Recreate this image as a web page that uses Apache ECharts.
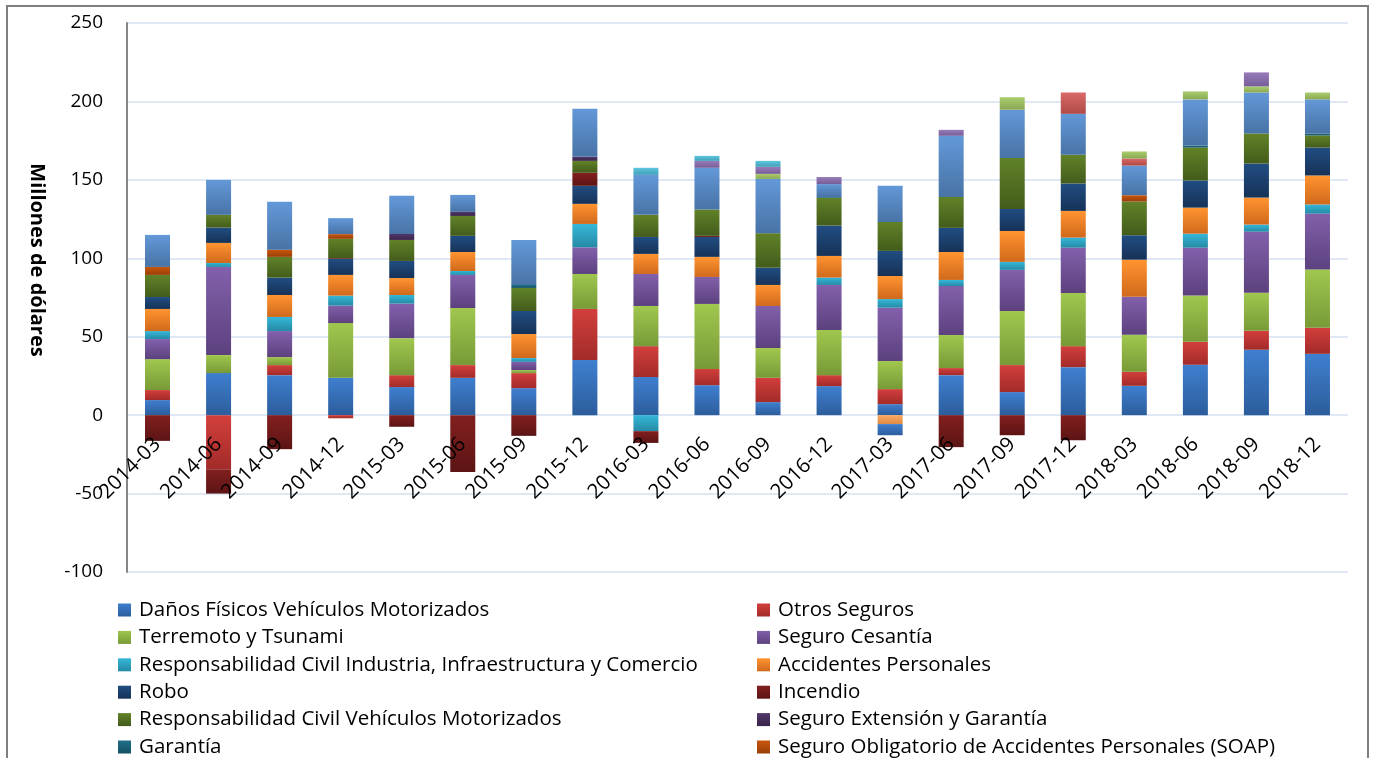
<!DOCTYPE html>
<html>
<head>
<meta charset="utf-8">
<script src="https://cdn.jsdelivr.net/npm/echarts@6/dist/echarts.min.js"></script>
<style>
  html, body { margin: 0; padding: 0; background: #fff; }
  #chart { width: 1373px; height: 758px; }
</style>
</head>
<body>
<div id="chart"></div>
<script>
const categories = ['2014-03', '2014-06', '2014-09', '2014-12', '2015-03', '2015-06', '2015-09', '2015-12',
  '2016-03', '2016-06', '2016-09', '2016-12', '2017-03', '2017-06', '2017-09', '2017-12',
  '2018-03', '2018-06', '2018-09', '2018-12']

const yTicks = { min: -100, max: 250, interval: 50 }

// values in millions of dollars (stack order bottom -> top)
const danosFisicos = [9.6, 26.8, 25.5, 23.8, 17.9, 23.8, 17.2, 35.1, 24.3, 19.1, 8.3, 18.5, 7.0, 25.5, 14.7, 30.6, 18.7, 32.1, 41.7, 39.1]
const otrosSeguros = [6.4, -34.5, 6.4, -2.0, 7.6, 8.1, 9.6, 32.6, 19.7, 10.3, 15.5, 7.0, 9.6, 4.5, 17.2, 13.4, 9.0, 14.7, 12.1, 16.6]
const terremoto = [19.7, 11.5, 5.1, 34.9, 23.6, 36.4, 1.9, 22.3, 25.6, 41.5, 19.0, 28.8, 17.9, 21.1, 34.5, 33.9, 23.6, 29.4, 24.3, 37.1]
const cesantia = [12.8, 56.2, 16.6, 11.1, 22.0, 21.1, 5.3, 17.0, 20.4, 17.2, 26.8, 28.7, 34.0, 31.2, 26.2, 28.9, 24.2, 30.6, 38.9, 35.7]
const rcIndustria = [5.1, 2.5, 9.0, 6.4, 5.5, 2.5, 2.4, 14.9, -10.2, 0, 0, 4.7, 5.5, 3.9, 5.1, 6.4, 0, 8.9, 4.5, 5.8]
const accidentes = [14.1, 12.8, 14.0, 13.2, 10.8, 12.1, 15.3, 12.8, 12.8, 12.8, 13.4, 13.8, 14.7, 17.8, 19.7, 17.0, 23.6, 16.6, 17.2, 18.5]
const robo = [7.6, 9.8, 11.1, 10.2, 10.9, 10.3, 14.7, 11.5, 10.8, 12.7, 11.0, 19.4, 16.0, 15.4, 14.1, 17.5, 15.6, 17.3, 21.7, 17.8]
const incendio = [-16.4, -15.5, -21.7, 0.5, -7.4, -36.2, -13.2, 8.3, -7.5, 0.7, 0, 0, 0, -20.4, -12.8, -16.0, 0, 0, 0, 0]
const rcVehiculos = [14.1, 8.1, 13.2, 12.3, 13.4, 12.7, 14.7, 7.6, 14.1, 16.8, 22.0, 17.6, 18.5, 19.7, 32.5, 18.3, 21.5, 21.0, 19.2, 7.7]
const extension = [0, 0, 0, 0, 3.8, 2.6, 0, 2.6, 0, 0, 0, 0, 0, 0, 0, 0, 0, 0, 0, 0]
const garantia = [0, 0, 0, 0, 0, 0, 1.9, 0, 0, 0, 0, 0.5, 0, 0, 0, 0, 0, 1.3, 0, 1.3]
const soap = [5.1, 0, 4.6, 3.0, 0, 0, 0, 0, 0, 0, 0, 0, 0, 0, 0, 0, 4.0, 0, 0, 0]
// series whose legend entries fall below the visible area
const serie13 = [20.4, 22.3, 30.5, 10.2, 24.3, 10.8, 28.7, 30.6, 25.5, 26.6, 34.6, 8.3, 23.0, 39.0, 30.7, 26.1, 18.9, 29.4, 26.1, 21.7]
const serie14 = [0, 0, 0, 0, 0, 0, 0, 0, 0, 0, 0, 0, 0, 0, 0, 13.6, 4.5, 0, 0, 0]
const serie15 = [0, 0, 0, 0, 0, 0, 0, 0, 0, 0, 3.2, 0, 0, 0, 8.0, 0, 4.5, 5.1, 3.9, 4.4]
const serie16 = [0, 0, 0, 0, 0, 0, 0, 0, 0, 4.4, 4.5, 4.5, 0, 3.8, 0, 0, 0, 0, 8.9, 0]
const serie17 = [0, 0, 0, 0, 0, 0, 0, 0, 4.5, 3.2, 3.8, 0, 0, 0, 0, 0, 0, 0, 0, 0]
const serie18 = [0, 0, 0, 0, 0, 0, 0, 0, 0, 0, 0, 0, -5.7, 0, 0, 0, 0, 0, 0, 0]
const serie19 = [0, 0, 0, 0, 0, 0, 0, 0, 0, 0, 0, 0, -7.1, 0, 0, 0, 0, 0, 0, 0]

const seriesList = [
  ['Daños Físicos Vehículos Motorizados', danosFisicos, '#3f7fcf', '#2c5d9c'],
  ['Otros Seguros', otrosSeguros, '#d23f3c', '#a22b29'],
  ['Terremoto y Tsunami', terremoto, '#a0c74e', '#789a37'],
  ['Seguro Cesantía', cesantia, '#8260ab', '#5c417e'],
  ['Responsabilidad Civil Industria, Infraestructura y Comercio', rcIndustria, '#36b7d9', '#258aa5'],
  ['Accidentes Personales', accidentes, '#ff9430', '#d0691c'],
  ['Robo', robo, '#214d82', '#163257'],
  ['Incendio', incendio, '#831f1f', '#5c1414'],
  ['Responsabilidad Civil Vehículos Motorizados', rcVehiculos, '#618228', '#435c1b'],
  ['Seguro Extensión y Garantía', extension, '#52376b', '#382549'],
  ['Garantía', garantia, '#1f7088', '#145061'],
  ['Seguro Obligatorio de Accidentes Personales (SOAP)', soap, '#c9560c', '#983f08'],
  ['Serie 13', serie13, '#6398d8', '#4873a6'],
  ['Serie 14', serie14, '#d86a68', '#b04a48'],
  ['Serie 15', serie15, '#abcd6e', '#8aa853'],
  ['Serie 16', serie16, '#977bba', '#775e98'],
  ['Serie 17', serie17, '#5ec6e0', '#42a0b8'],
  ['Serie 18', serie18, '#fba95f', '#e08a45'],
  ['Serie 19', serie19, '#3f7fcf', '#2c5d9c'],
]

const FONT = '"Open Sans", "Noto Sans", sans-serif'

// grid geometry; a second grid ending on the zero line carries the category labels
const GRID_LEFT = 127
const GRID_TOP = 23
const GRID_W = 1221
const GRID_H = 549
const zeroFromTop = GRID_H * yTicks.max / (yTicks.max - yTicks.min)

const chart = echarts.init(document.getElementById('chart'))

const series = seriesList.map(([name, values, top, bottom]) => ({
  name,
  type: 'bar',
  stack: 'total',
  barWidth: 25,
  xAxisIndex: 0,
  yAxisIndex: 0,
  data: values.map(v => (v === 0 ? '-' : v)),
  itemStyle: {
    color: new echarts.graphic.LinearGradient(0, 0, 0, 1, [
      { offset: 0, color: top },
      { offset: 1, color: bottom },
    ]),
  },
}))

const legendNames = seriesList.slice(0, 12).map(s => s[0])

function legendCol(left, names) {
  return {
    orient: 'vertical',
    left,
    top: 599,
    height: 1000,
    icon: 'rect',
    itemWidth: 13,
    itemHeight: 13,
    itemGap: 5.4,
    padding: 0,
    selectedMode: false,
    data: names,
    textStyle: { fontFamily: FONT, fontSize: 20.5, color: '#000', lineHeight: 22, padding: [0, 0, 0, 3] },
  }
}

chart.setOption({
  animation: false,
  backgroundColor: '#fff',
  graphic: [
    {
      type: 'rect',
      shape: { x: 7, y: 6, width: 1361, height: 800 },
      style: { fill: 'none', stroke: '#7f7f7f', lineWidth: 2 },
      silent: true,
    },
    {
      type: 'text',
      x: 37,
      y: 260,
      rotation: -Math.PI / 2,
      style: {
        text: 'Millones de dólares',
        font: 'bold 20px ' + FONT,
        fill: '#000',
        align: 'center',
        verticalAlign: 'middle',
      },
    },
  ],
  legend: [
    legendCol(118, legendNames.filter((_, i) => i % 2 === 0)),
    legendCol(757, legendNames.filter((_, i) => i % 2 === 1)),
  ],
  grid: [
    { left: GRID_LEFT, top: GRID_TOP, width: GRID_W, height: GRID_H, outerBoundsMode: 'none' },
    { left: GRID_LEFT, top: GRID_TOP, width: GRID_W, height: zeroFromTop, outerBoundsMode: 'none' },
  ],
  xAxis: [
    {
      type: 'category',
      gridIndex: 0,
      data: categories,
      axisLine: { show: false },
      axisTick: { show: false },
      axisLabel: { show: false },
    },
    {
      type: 'category',
      gridIndex: 1,
      data: categories,
      position: 'bottom',
      z: 10,
      axisLine: { show: false },
      axisTick: { show: false },
      axisLabel: {
        rotate: 45,
        margin: 26,
        interval: 0,
        fontFamily: FONT,
        fontSize: 20.5,
        color: '#000',
      },
    },
  ],
  yAxis: [
    {
      type: 'value',
      gridIndex: 0,
      min: yTicks.min,
      max: yTicks.max,
      interval: yTicks.interval,
      axisLine: { show: true, lineStyle: { color: '#868686', width: 2 } },
      axisTick: { show: false },
      axisLabel: { margin: 24, fontFamily: FONT, fontSize: 19, color: '#000' },
      splitLine: { lineStyle: { color: '#d4e0f0', width: 1.5 } },
    },
    {
      type: 'value',
      gridIndex: 1,
      min: 0,
      max: yTicks.max,
      show: false,
    },
  ],
  series,
})
</script>
</body>
</html>
